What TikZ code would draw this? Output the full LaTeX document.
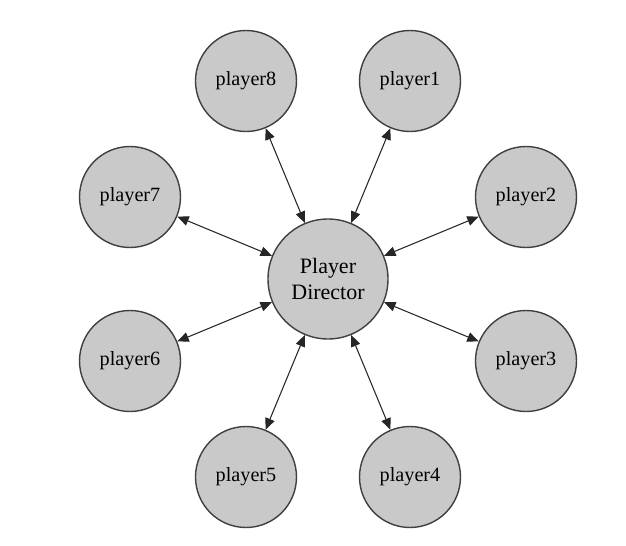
\documentclass[tikz,border=0pt]{standalone}
\usepackage{fontspec}
\setmainfont{Liberation Serif}
\usetikzlibrary{arrows.meta}

\begin{document}
\begin{tikzpicture}[round/.style={circle, draw=black!75, fill=black!21, line width=0.8pt, minimum size=2.02cm, inner sep=0pt, font=\fontsize{11.5}{13}\selectfont},
    director/.style={round, minimum size=2.4cm, align=center, font=\fontsize{12.5}{15}\selectfont},
    link/.style={{Triangle[length=6.5pt,width=5.5pt]}-{Triangle[length=6.5pt,width=5.5pt]}, line width=0.6pt, draw=black!85}]
    \useasboundingbox (0,0) rectangle (12.52,10.9);
    \node [director](pd) at (6.56,5.32) {Player\\Director};
    \node [round](p1) at (8.20,9.28) {player1};
    \node [round](p2) at (10.52,6.96) {player2};
    \node [round](p3) at (10.52,3.68) {player3};
    \node [round](p4) at (8.20,1.36) {player4};
    \node [round](p5) at (4.92,1.36) {player5};
    \node [round](p6) at (2.60,3.68) {player6};
    \node [round](p7) at (2.60,6.96) {player7};
    \node [round](p8) at (4.92,9.28) {player8};
    \draw [link] (pd) -- (p1);
    \draw [link] (pd) -- (p2);
    \draw [link] (pd) -- (p3);
    \draw [link] (pd) -- (p4);
    \draw [link] (pd) -- (p5);
    \draw [link] (pd) -- (p6);
    \draw [link] (pd) -- (p7);
    \draw [link] (pd) -- (p8);
    
\end{tikzpicture}
\end{document}
